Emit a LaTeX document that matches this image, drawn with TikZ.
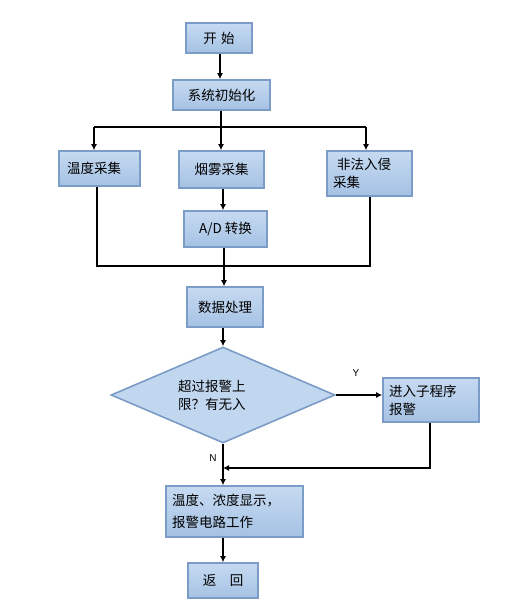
\documentclass[tikz,border=0pt]{standalone}
\usepackage{fontspec}
\setmainfont{Noto Sans CJK SC}
\newfontfamily\latinfont{Liberation Sans}
\usetikzlibrary{
    arrows.meta,
    positioning,
    calc,
    shapes.geometric,
}

\definecolor{boxtop}{HTML}{C6DAF1}
\definecolor{boxbottom}{HTML}{A5C2E4}
\definecolor{boxline}{HTML}{7A9CC6}

\begin{document}
\begin{tikzpicture}[
    x=1pt, y=-1pt,
    font=\fontsize{13.5}{18}\selectfont,
    >={Latex[length=6pt,width=6pt]},
    flow/.style={line width=1.6pt},
    stepbox/.style={draw=boxline, line width=1.6pt, top color=boxtop, bottom color=boxbottom, inner sep=6pt},
    leftbox/.style={stepbox, align=left},
    decision/.style={diamond, aspect=2.33, draw=boxline, line width=1.6pt, fill=boxtop!85!boxbottom, inner sep=0pt, align=left},
    yesno/.style={font=\latinfont\fontsize{10}{11}\selectfont},
]
\useasboundingbox (0,0) rectangle (506,615);

\node[stepbox, minimum width=66pt, minimum height=30pt] (start) at (219,38) {开\,\,始};
\node[stepbox, minimum width=97pt, minimum height=30pt] (init) at (221.5,95) {系统初始化};

\node[leftbox, minimum width=81pt, minimum height=35pt, text width=65pt] (temp) at (99.5,168.5) {温度采集};
\node[stepbox, minimum width=85pt, minimum height=37pt] (smoke) at (221.5,169.5) {烟雾采集};
\node[leftbox, minimum width=85pt, minimum height=45pt, text width=73pt] (intr) at (369.5,173.5) {\hspace{0.3em}非法入侵\\采集};
\node[stepbox, minimum width=83pt, minimum height=36pt] (adc) at (225.5,229) {A/D 转换};

\node[stepbox, minimum width=76pt, minimum height=40pt] (proc) at (225,307) {数据处理};
\node[decision, minimum width=224pt, minimum height=96pt, text width=90pt] (check) at (223,395) {超过报警上\\限？有无入};
\node[leftbox, minimum width=96pt, minimum height=44pt, text width=84pt] (alarm) at (431,400) {进入子程序\\报警};

\node[leftbox, minimum width=137pt, minimum height=51pt, text width=125pt, font=\fontsize{13.5}{22}\selectfont] (show) at (234.5,511.5) {温度、浓度显示，\\报警电路工作};
\node[stepbox, minimum width=70pt, minimum height=35pt] (back) at (223,580.5) {返\quad 回};

\coordinate (bus) at (221,127);
\coordinate (busL) at (94,127);
\coordinate (busR) at (366,127);
\coordinate (merge) at (224,266);
\coordinate (join) at (223,468);

\draw[flow, ->] (start.south -| 220,0) -- (init.north -| 220,0);
\draw[flow] (init.south -| bus) -- (bus);
\draw[flow] (busL) -- (busR);
\draw[flow, ->] (busL) -- (busL |- temp.north);
\draw[flow, ->] (bus) -- (bus |- smoke.north);
\draw[flow, ->] (busR) -- (busR |- intr.north);
\draw[flow, ->] (smoke.south -| 223,0) -- (adc.north -| 223,0);

\draw[flow] (temp.south -| 97,0) -- (97,266) -- (370,266) -- (intr.south -| 370,0);
\draw[flow] (adc.south -| merge) -- (merge);
\draw[flow, ->] (merge) -- (proc.north -| merge);
\draw[flow, ->] (proc.south -| check.north) -- (check.north);

\draw[flow, ->] (check.east) -- (alarm.west |- check.east);
\node[yesno] (yes) at (356,373) {Y};
\draw[flow, ->] (check.south) -- (show.north -| check.south);
\node[yesno] (no) at (213,458) {N};
\draw[flow, ->] (alarm.south -| 430,0) -- (430,468) -- (join);
\draw[flow, ->] (show.south -| back.north) -- (back.north);

\end{tikzpicture}
\end{document}
